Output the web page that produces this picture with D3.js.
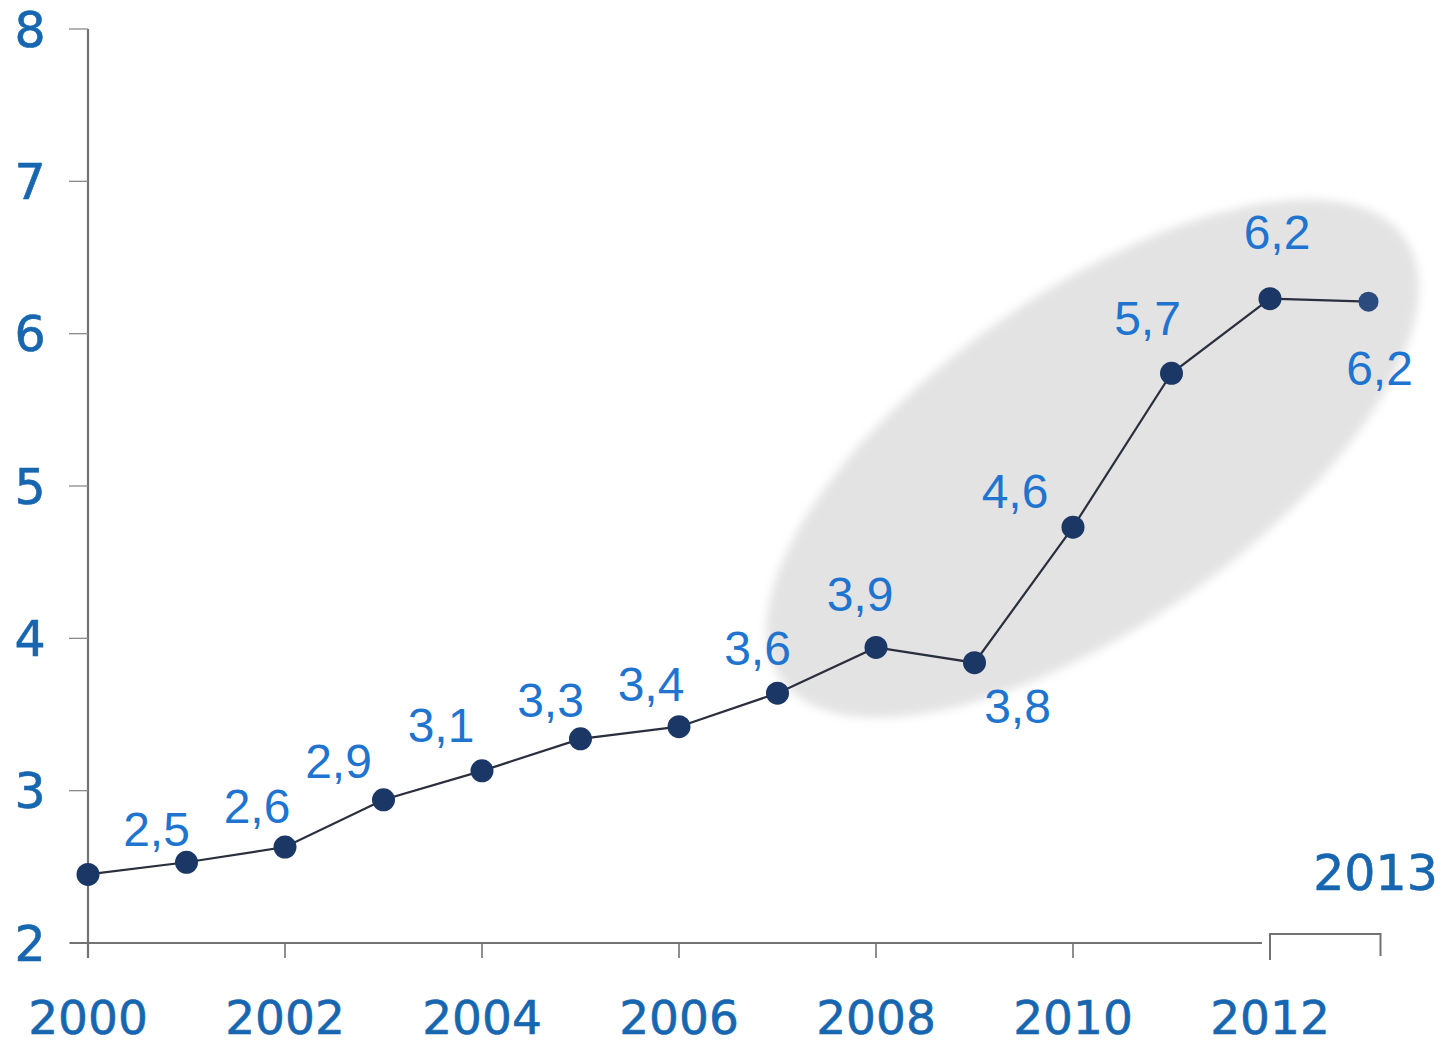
<!DOCTYPE html>
<html>
<head>
<meta charset="utf-8">
<script src="https://cdn.jsdelivr.net/npm/d3@7"></script>
<style>
  html, body { margin: 0; padding: 0; background: #ffffff; }
  svg { display: block; }
</style>
</head>
<body>
<svg id="chart" width="1443" height="1046"></svg>
<script>
// ---- data ----
const years = [2000, 2001, 2002, 2003, 2004, 2005, 2006, 2007, 2008, 2009, 2010, 2011, 2012, 2013];
const values = [2.45, 2.53, 2.63, 2.94, 3.13, 3.34, 3.42, 3.64, 3.94, 3.84, 4.73, 5.74, 6.23, 6.21];
const valueLabels = [null, "2,5", "2,6", "2,9", "3,1", "3,3", "3,4", "3,6", "3,9", "3,8", "4,6", "5,7", "6,2", "6,2"];
const yTicks = [2, 3, 4, 5, 6, 7, 8];
const xTicks = [2000, 2002, 2004, 2006, 2008, 2010, 2012];
const xTickLabels = ["2000", "2002", "2004", "2006", "2008", "2010", "2012"];
const lastYearLabel = "2013";
const highlightCenter = [2010.2, 5.18];

// ---- layout ----
const labelDx = [0, -30, -28, -45, -41, -30, -28, -20, -16, 43, -58, -24, 7, 11];
const labelDy = [0, -16, -24, -22, -29, -22, -26, -28, -36, 60, -19, -38, -50, 83];

const svg = d3.select("#chart");
const x = d3.scaleLinear().domain([2000, 2012]).range([88, 1270]);
const y = d3.scaleLinear().domain([2, 8]).range([943, 29]);

const axisColor = "#737373";
const axisText = "#1766b0";
const dataText = "#1e74cf";
const axisFont = "DejaVu Sans, Verdana, sans-serif";

// highlight ellipse
const defs = svg.append("defs");
defs.append("filter").attr("id", "blur")
  .attr("x", "-20%").attr("y", "-20%").attr("width", "140%").attr("height", "140%")
  .append("feGaussianBlur").attr("stdDeviation", 5);

svg.append("ellipse")
  .attr("transform", `translate(${x(highlightCenter[0])},${y(highlightCenter[1])}) rotate(-35.3)`)
  .attr("rx", 382).attr("ry", 166)
  .attr("fill", "#e3e3e3")
  .attr("filter", "url(#blur)");

// y axis
const yAxis = svg.append("g");
yAxis.append("line")
  .attr("x1", x(2000)).attr("x2", x(2000))
  .attr("y1", y(8)).attr("y2", y(2) + 15)
  .attr("stroke", axisColor).attr("stroke-width", 2.2);
yAxis.selectAll("line.tick").data(yTicks).join("line")
  .attr("class", "tick")
  .attr("x1", x(2000) - 19).attr("x2", x(2000))
  .attr("y1", d => y(d)).attr("y2", d => y(d))
  .attr("stroke", "#8a8a8a").attr("stroke-width", 1.3);
yAxis.selectAll("text").data(yTicks).join("text")
  .attr("x", 30).attr("y", d => y(d))
  .attr("dy", "0.36em")
  .attr("text-anchor", "middle")
  .attr("font-family", axisFont)
  .attr("font-size", 49)
  .attr("fill", axisText)
  .attr("stroke", axisText).attr("stroke-width", 0.6)
  .text(d => d);

// x axis
const xAxis = svg.append("g");
xAxis.append("line")
  .attr("x1", x(2000) - 18).attr("x2", x(2012) - 8)
  .attr("y1", y(2)).attr("y2", y(2))
  .attr("stroke", axisColor).attr("stroke-width", 2);
xAxis.selectAll("line.tick").data(xTicks.slice(0, -1)).join("line")
  .attr("class", "tick")
  .attr("x1", d => x(d)).attr("x2", d => x(d))
  .attr("y1", y(2)).attr("y2", y(2) + 15)
  .attr("stroke", axisColor).attr("stroke-width", 1.6);
xAxis.selectAll("text").data(xTicks).join("text")
  .attr("x", d => x(d)).attr("y", 1034)
  .attr("text-anchor", "middle")
  .attr("font-family", axisFont)
  .attr("font-size", 47)
  .attr("fill", axisText)
  .attr("stroke", axisText).attr("stroke-width", 0.6)
  .text((d, i) => xTickLabels[i]);

// bracket for last year
const bracketY = y(2) - 9;
xAxis.append("path")
  .attr("d", `M${x(2012)},${bracketY + 26} V${bracketY} H${x(2013) + 12} V${bracketY + 22}`)
  .attr("fill", "none")
  .attr("stroke", axisColor).attr("stroke-width", 2);
xAxis.append("text")
  .attr("x", x(2013) + 7).attr("y", 890)
  .attr("text-anchor", "middle")
  .attr("font-family", axisFont)
  .attr("font-size", 49)
  .attr("fill", axisText)
  .attr("stroke", axisText).attr("stroke-width", 0.6)
  .text(lastYearLabel);

// line
const pts = years.map((yr, i) => ({ yr, v: values[i], label: valueLabels[i], dx: labelDx[i], dy: labelDy[i], i }));
svg.append("path")
  .datum(pts)
  .attr("d", d3.line().x(d => x(d.yr)).y(d => y(d.v)))
  .attr("fill", "none")
  .attr("stroke", "#2a2f3e")
  .attr("stroke-width", 2.2);

svg.selectAll("circle.pt").data(pts).join("circle")
  .attr("class", "pt")
  .attr("cx", d => x(d.yr)).attr("cy", d => y(d.v))
  .attr("r", d => d.i === pts.length - 1 ? 10 : 11.5)
  .attr("fill", d => d.i === pts.length - 1 ? "#2b4a7e" : "#1b3766");

svg.selectAll("text.lbl").data(pts.filter(d => d.label)).join("text")
  .attr("class", "lbl")
  .attr("x", d => x(d.yr) + d.dx)
  .attr("y", d => y(d.v) + d.dy)
  .attr("text-anchor", "middle")
  .attr("font-family", "Liberation Sans, Arial, sans-serif")
  .attr("font-size", 48)
  .attr("fill", dataText)
  .text(d => d.label);
</script>
</body>
</html>
